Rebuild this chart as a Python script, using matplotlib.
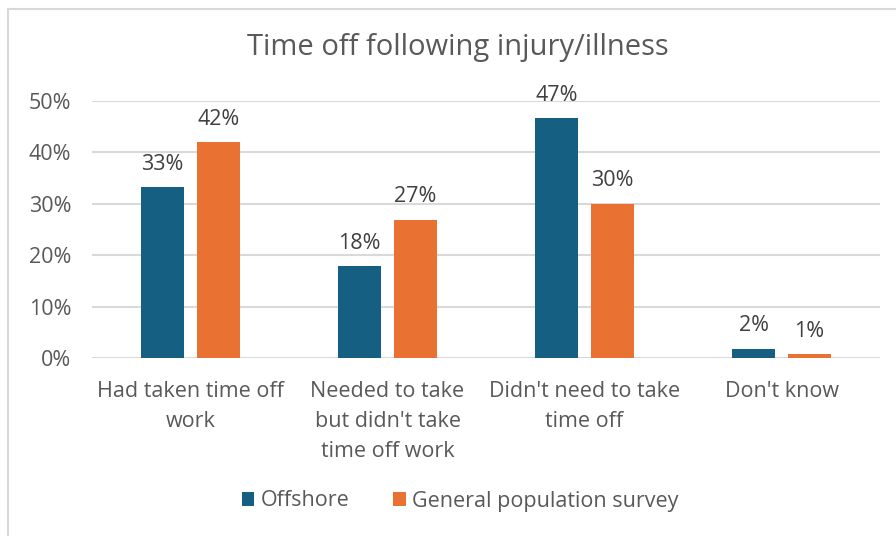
import matplotlib.pyplot as plt
import numpy as np
from matplotlib.ticker import PercentFormatter

plt.rcParams['font.family'] = ['Open Sans', 'DejaVu Sans']

categories = ["Had taken time off\nwork", "Needed to take\nbut didn't take\ntime off work",
              "Didn't need to take\ntime off", "Don't know"]
offshore = [33.3, 17.9, 46.7, 1.8]
general = [42.0, 26.9, 30.0, 0.8]
series_names = ['Offshore', 'General population survey']
colors = ['#156082', '#E97132']
text_color = '#595959'

fig = plt.figure(figsize=(8.96, 5.36), dpi=100)
ax = fig.add_axes([92 / 896, 1 - 358 / 536, 788 / 896, 257 / 536])

x = np.arange(len(categories))
w = 0.223
off = 0.142
b1 = ax.bar(x - off, offshore, w, color=colors[0], label=series_names[0], zorder=3)
b2 = ax.bar(x + off, general, w, color=colors[1], label=series_names[1], zorder=3)

for bars in (b1, b2):
    for r in bars:
        v = r.get_height()
        ax.text(r.get_x() + r.get_width() / 2, v + 2.4, f'{v:.0f}%', ha='center', va='bottom',
                fontsize=15.5, color='#404040')

ax.set_xlim(-0.5, 3.5)
ax.set_ylim(0, 50)
ax.set_yticks(range(0, 51, 10))
ax.yaxis.set_major_formatter(PercentFormatter(decimals=0))
ax.grid(axis='y', color='#D9D9D9', linewidth=1.5, zorder=0)
for s in ax.spines.values():
    s.set_visible(False)
ax.tick_params(length=0, labelsize=15.5, labelcolor=text_color)
ax.tick_params(axis='y', pad=15)
ax.set_xticks(x)
ax.set_xticklabels(categories, linespacing=1.55, va='top')
ax.tick_params(axis='x', pad=16.5)

fig.text(458 / 896, 1 - 48 / 536, 'Time off following injury/illness', ha='center', va='center',
         fontsize=21, color=text_color)

fig.legend(loc='center', bbox_to_anchor=(460 / 896, 1 - 501 / 536), ncol=2, frameon=False,
           fontsize=15.5, labelcolor=text_color, handlelength=0.6, handleheight=0.6,
           handletextpad=0.3, columnspacing=2.0)

# outer chart border (top and left visible only)
fig.add_artist(plt.Line2D([8 / 896, 1], [1 - 9 / 536, 1 - 9 / 536], color='#D9D9D9', lw=1.5))
fig.add_artist(plt.Line2D([8 / 896, 8 / 896], [0, 1 - 9 / 536], color='#D9D9D9', lw=1.5))

fig.savefig('out.png', dpi=100)
